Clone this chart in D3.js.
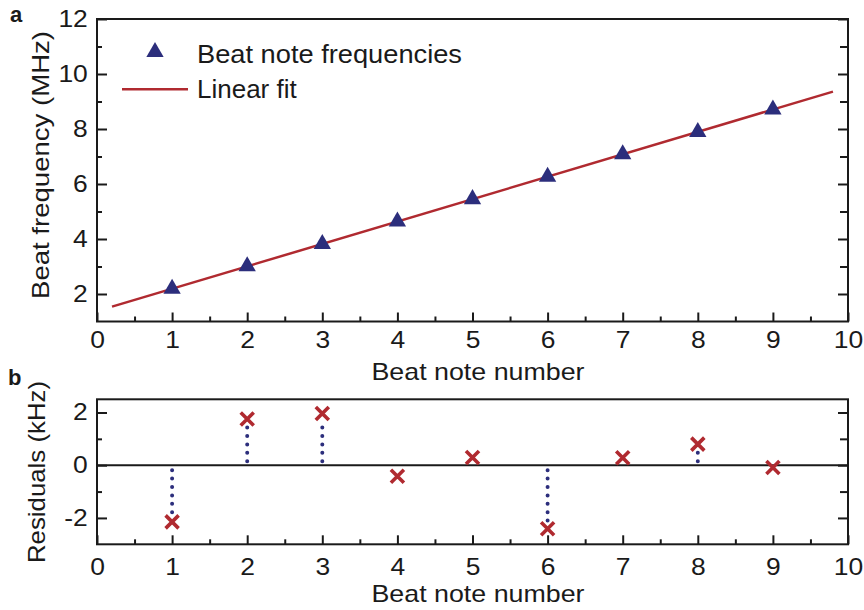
<!DOCTYPE html>
<html>
<head>
<meta charset="UTF-8">
<script src="https://cdn.jsdelivr.net/npm/d3@7"></script>
<style>
  body { margin: 0; background: #fff; }
  svg text { font-family: "Liberation Sans", Arial, sans-serif; fill: #1a1a1a; }
  .domain { display: none; }
  .tick line { stroke: #1a1a1a; stroke-width: 2; }
</style>
</head>
<body>
<svg id="chart" width="864" height="610"></svg>
<script>
// beat note numbers and measured beat frequencies (MHz)
var noteNumbers = [1, 2, 3, 4, 5, 6, 7, 8, 9];
var beatFreqs = [2.19, 3.01, 3.82, 4.64, 5.45, 6.26, 7.08, 7.89, 8.71];
// linear fit end points (note number, MHz)
var fitX = [0.2, 9.8];
var fitY = [1.54, 9.36];
// residuals of the fit (kHz)
var residuals = [-2.15, 1.75, 1.96, -0.42, 0.29, -2.41, 0.28, 0.8, -0.09];

var xTicks = [0, 1, 2, 3, 4, 5, 6, 7, 8, 9, 10];
var xMinor = [0.5, 1.5, 2.5, 3.5, 4.5, 5.5, 6.5, 7.5, 8.5, 9.5];
var yTicksTop = [2, 4, 6, 8, 10, 12];
var yMinorTop = [3, 5, 7, 9, 11];
var yTicksBot = [-2, 0, 2];
var yMinorBot = [-1, 1];

var navy = "#2c2e7c", red = "#b02a30";
var svg = d3.select("#chart");

var left = 97, right = 848;
var x = d3.scaleLinear().domain([0, 10]).range([left, right]);
var yTop = d3.scaleLinear().domain([1, 12]).range([321.5, 19]);
var yBot = d3.scaleLinear().domain([-3, 2.5]).range([544.3, 399.3]);

// the original lettering is a bit wider than Arial
var stretch = 1.15;

function drawFrame(y, majors, minors, labelY) {
  var y0 = y.range()[0], y1 = y.range()[1];
  // bottom axis, ticks pointing in
  svg.append("g").attr("transform", "translate(0," + y0 + ")")
    .call(d3.axisBottom(x).tickValues(xTicks).tickSize(-9).tickFormat(d3.format("d")))
    .call(g => g.selectAll("text").attr("font-size", 23).attr("dy", null)
      .attr("y", labelY).attr("transform", "scale(" + stretch + ",1)"));
  svg.append("g").attr("transform", "translate(0," + y0 + ")")
    .call(d3.axisBottom(x).tickValues(xMinor).tickSize(-5).tickFormat(""));
  // left axis
  svg.append("g").attr("transform", "translate(" + left + ",0)")
    .call(d3.axisLeft(y).tickValues(majors).tickSize(-10).tickFormat(d => d < 0 ? "-" + Math.abs(d) : d))
    .call(g => g.selectAll("text").attr("font-size", 23).attr("x", -8)
      .attr("transform", "scale(" + stretch + ",1)"));
  svg.append("g").attr("transform", "translate(" + left + ",0)")
    .call(d3.axisLeft(y).tickValues(minors).tickSize(-5).tickFormat(""));
  // right axis
  svg.append("g").attr("transform", "translate(" + right + ",0)")
    .call(d3.axisRight(y).tickValues(majors).tickSize(-10).tickFormat(""));
  svg.append("g").attr("transform", "translate(" + right + ",0)")
    .call(d3.axisRight(y).tickValues(minors).tickSize(-8).tickFormat(""));
  svg.append("rect")
    .attr("x", left).attr("y", y1)
    .attr("width", right - left).attr("height", y0 - y1)
    .attr("fill", "none").attr("stroke", "#1a1a1a").attr("stroke-width", 2);
}

function label(txt, cx, cy, len, rotate) {
  var t = svg.append("text")
    .attr("text-anchor", "middle").attr("font-size", 24)
    .attr("textLength", len).attr("lengthAdjust", "spacingAndGlyphs")
    .text(txt);
  if (rotate) t.attr("transform", "translate(" + cx + "," + cy + ") rotate(-90)");
  else t.attr("x", cx).attr("y", cy);
}

// ---- panel a ----
drawFrame(yTop, yTicksTop, yMinorTop, 26.8);

svg.append("line")
  .attr("x1", x(fitX[0])).attr("y1", yTop(fitY[0]))
  .attr("x2", x(fitX[1])).attr("y2", yTop(fitY[1]))
  .attr("stroke", red).attr("stroke-width", 2.5);

var tri = d3.symbol().type(d3.symbolTriangle).size(130);
svg.append("g").selectAll("path")
  .data(noteNumbers)
  .join("path")
  .attr("d", tri)
  .attr("transform", (d, i) => "translate(" + x(d) + "," + yTop(beatFreqs[i]) + ")")
  .attr("fill", navy);

// legend
svg.append("path").attr("d", tri).attr("transform", "translate(155,52)").attr("fill", navy);
svg.append("text").attr("x", 197).attr("y", 62.7).attr("font-size", 26)
  .attr("textLength", 265).attr("lengthAdjust", "spacingAndGlyphs").text("Beat note frequencies");
svg.append("line").attr("x1", 122).attr("x2", 188).attr("y1", 89.3).attr("y2", 89.3)
  .attr("stroke", red).attr("stroke-width", 2.5);
svg.append("text").attr("x", 197).attr("y", 98.3).attr("font-size", 26).text("Linear fit");

label("Beat note number", 478, 380, 213);
label("Beat frequency (MHz)", 49, 165, 268, true);
svg.append("text").attr("x", 10).attr("y", 22).attr("font-size", 22)
  .attr("font-weight", "bold").text("a");

// ---- panel b ----
drawFrame(yBot, yTicksBot, yMinorBot, 31);

svg.append("line")
  .attr("x1", left).attr("x2", right).attr("y1", yBot(0)).attr("y2", yBot(0))
  .attr("stroke", "#1a1a1a").attr("stroke-width", 2);

// dotted stems from the zero line, stopping short of each marker
svg.append("g").selectAll("line")
  .data(residuals.filter(d => Math.abs(yBot(d) - yBot(0)) > 12))
  .join("line")
  .attr("x1", d => x(noteNumbers[residuals.indexOf(d)]))
  .attr("x2", d => x(noteNumbers[residuals.indexOf(d)]))
  .attr("y1", d => yBot(0) + (d < 0 ? 5 : -4))
  .attr("y2", d => yBot(d) + (d < 0 ? -8 : 8))
  .attr("stroke", navy).attr("stroke-width", 4)
  .attr("stroke-linecap", "round").attr("stroke-dasharray", "0 8.4");

svg.append("g").selectAll("path")
  .data(residuals)
  .join("path")
  .attr("d", "M-6.5,-6.5L6.5,6.5M-6.5,6.5L6.5,-6.5")
  .attr("transform", (d, i) => "translate(" + x(noteNumbers[i]) + "," + yBot(d) + ")")
  .attr("stroke", red).attr("stroke-width", 3.6).attr("fill", "none");

label("Beat note number", 478, 602, 213);
label("Residuals (kHz)", 45, 472, 182, true);
svg.append("text").attr("x", 8).attr("y", 385).attr("font-size", 22)
  .attr("font-weight", "bold").text("b");
</script>
</body>
</html>
